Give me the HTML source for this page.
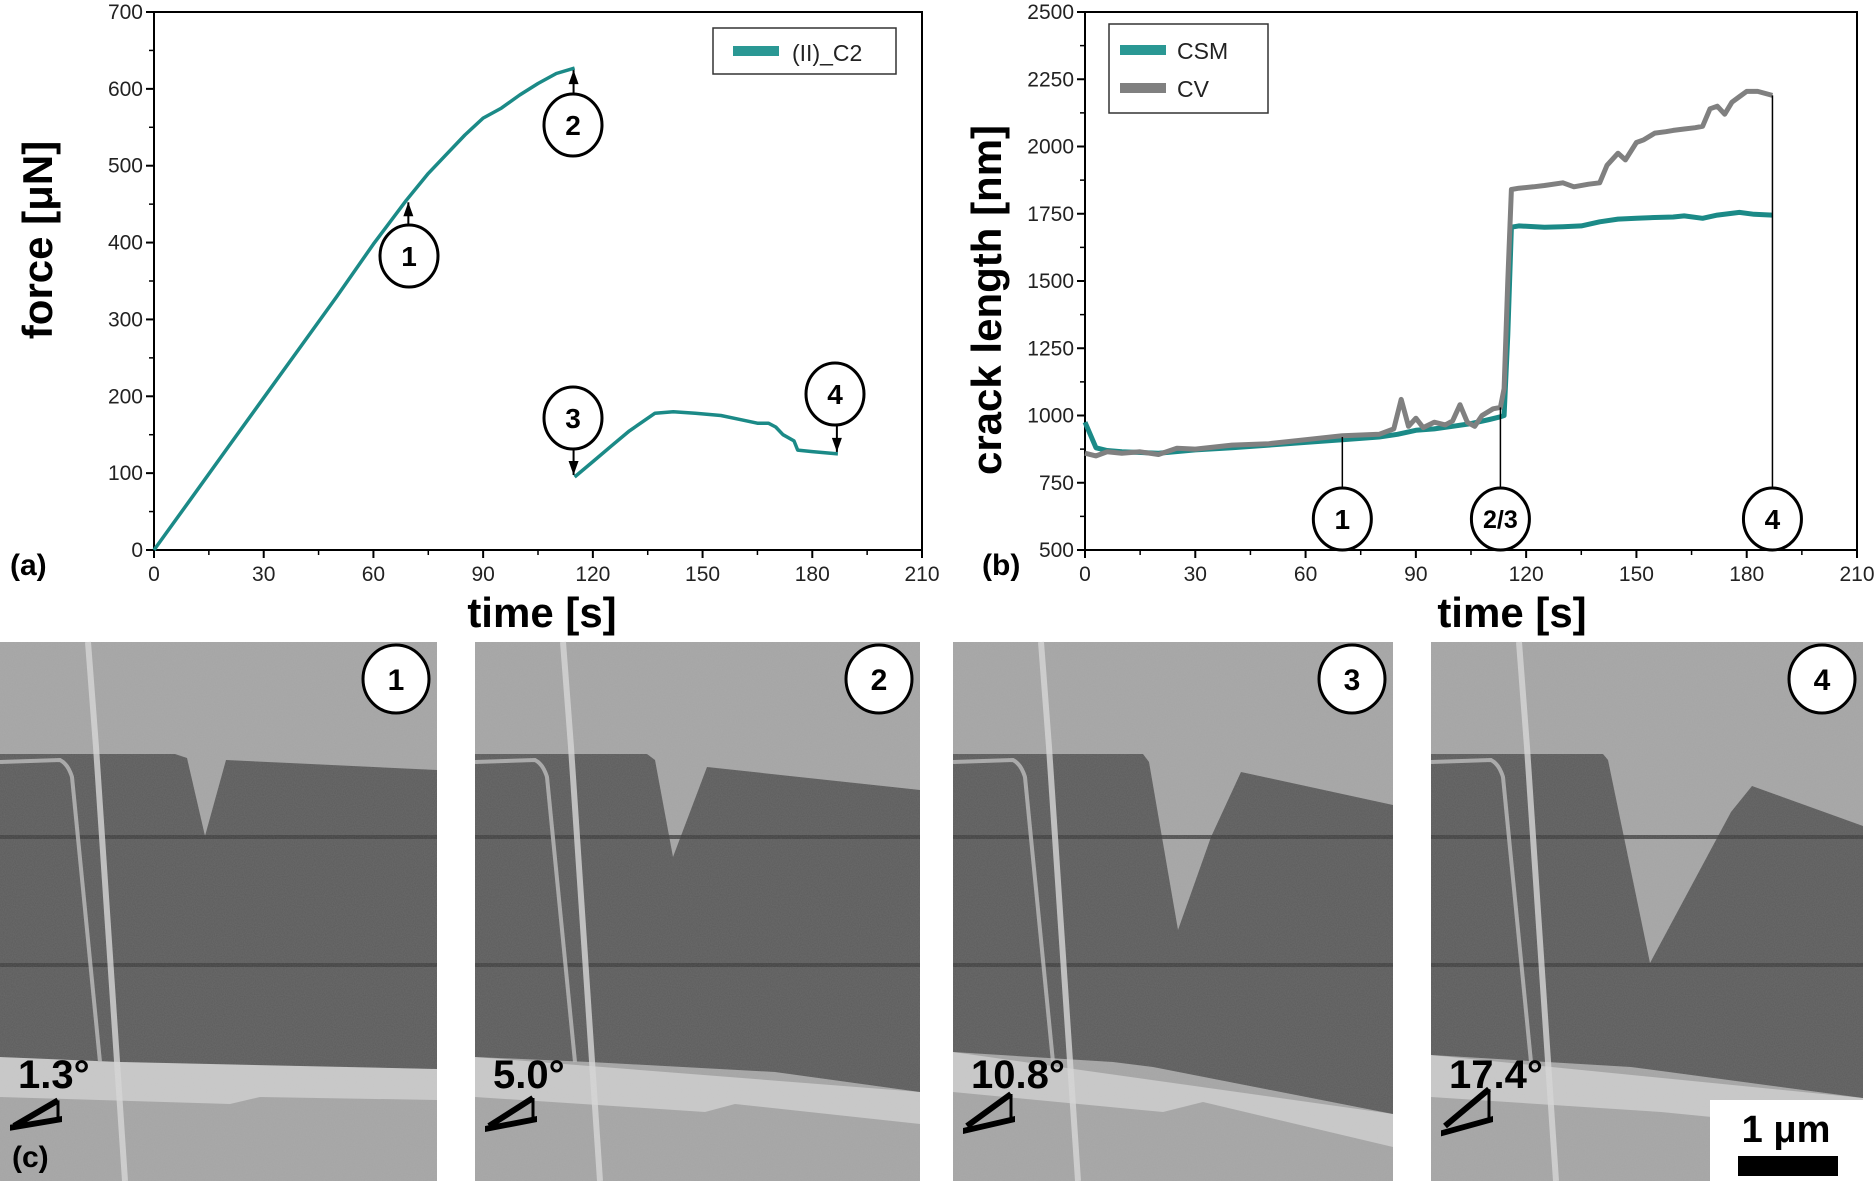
<!DOCTYPE html>
<html><head><meta charset="utf-8"><style>
html,body{margin:0;padding:0;background:#fff;}
svg{display:block;font-family:"Liberation Sans",sans-serif;}
</style></head><body>
<svg id="fig" width="1875" height="1181" viewBox="0 0 1875 1181">
<defs>
<filter id="noise" x="0" y="0" width="100%" height="100%">
<feTurbulence type="fractalNoise" baseFrequency="0.9" numOctaves="1" seed="3" result="n"/>
<feColorMatrix type="matrix" values="0 0 0 0 0.5  0 0 0 0 0.5  0 0 0 0 0.5  0 0 0 0.18 0"/>
</filter>
</defs>
<g id="chartA"></g>
<g id="chartB"></g>
<g id="sem"></g>
<text x="10" y="575" font-size="30" font-weight="bold">(a)</text>
<text x="982" y="575" font-size="30" font-weight="bold">(b)</text>
</svg>
<script>
const NS='http://www.w3.org/2000/svg';
// ---- Data ----
const forceTimeLoad=[0,10,20,30,40,50,60,69,75,80,85,90,95,100,105,110,115];
const forceLoad=[0,66,132,198,264,330,398,455,490,515,540,562,575,592,607,620,627];
const forceTimeUnload=[115,120,125,130,137,142,148,155,160,165,168,170,172,175,176,180,187];
const forceUnload=[95,115,135,155,178,180,178,175,170,165,165,160,150,142,130,128,125];
const aTicksX=[0,30,60,90,120,150,180,210];
const aTicksY=[0,100,200,300,400,500,600,700];
const csmTime=[0,3,6,10,20,30,40,50,60,70,80,85,90,95,100,105,110,113,114,115,116,118,125,130,135,140,145,150,155,160,163,168,172,178,182,187];
const csmVal=[975,880,870,865,860,872,880,890,900,910,920,930,945,950,960,970,985,995,1000,1300,1700,1705,1700,1702,1705,1720,1730,1733,1736,1738,1742,1733,1745,1755,1748,1745];
const cvTime=[0,3,6,10,15,20,25,30,40,50,60,70,80,84,86,88,90,92,95,98,100,102,104,106,108,111,113,114,115,116,118,122,125,130,133,137,140,142,145,147,150,152,155,158,160,163,166,168,170,172,174,176,178,180,183,187];
const cvVal=[860,850,865,860,865,855,878,875,890,895,910,925,930,950,1060,960,990,955,975,965,980,1040,975,960,1000,1025,1030,1100,1500,1840,1845,1850,1855,1865,1850,1860,1865,1930,1975,1950,2015,2025,2050,2055,2060,2065,2070,2075,2140,2150,2120,2165,2185,2205,2205,2190];
const bTicksX=[0,30,60,90,120,150,180,210];
const bTicksY=[500,750,1000,1250,1500,1750,2000,2250,2500];

function el(tag,attrs,parent,txt){const e=document.createElementNS(NS,tag);for(const k in attrs)e.setAttribute(k,attrs[k]);if(txt!==undefined)e.textContent=txt;parent.appendChild(e);return e;}

function axes(g,L,R,T,B,xmin,xmax,ymin,ymax,xt,yt,minorX,minorY){
  const sx=v=>L+(v-xmin)/(xmax-xmin)*(R-L);
  const sy=v=>B-(v-ymin)/(ymax-ymin)*(B-T);
  const f=el('rect',{x:L,y:T,width:R-L,height:B-T,fill:'none',stroke:'#000','stroke-width':2},g);
  
  
  xt.forEach((v,i)=>{
    const x=sx(v);
    el('line',{x1:x,y1:B,x2:x,y2:B+8,stroke:'#000','stroke-width':2},g);
    if(i<xt.length-1){const xm=sx(v+minorX);el('line',{x1:xm,y1:B,x2:xm,y2:B+5,stroke:'#000','stroke-width':1.5},g);}
    const t=el('text',{x:x,y:B+31,'font-size':21,'text-anchor':'middle',fill:'#222'},g,String(v));
    
    
  });
  yt.forEach((v,i)=>{
    const y=sy(v);
    el('line',{x1:L-8,y1:y,x2:L,y2:y,stroke:'#000','stroke-width':2},g);
    if(i<yt.length-1){const ym=sy(v+minorY);el('line',{x1:L-5,y1:ym,x2:L,y2:ym,stroke:'#000','stroke-width':1.5},g);}
    const t=el('text',{x:L-11,y:y+7,'font-size':21,'text-anchor':'end',fill:'#222'},g,String(v));
    
    
  });
  return {sx,sy};
}
function line(g,xs,ys,s,color,w,name){
  const d=xs.map((x,i)=>(i?'L':'M')+s.sx(x).toFixed(1)+','+s.sy(ys[i]).toFixed(1)).join('');
  const p=el('path',{d:d,fill:'none',stroke:color,'stroke-width':w,'stroke-linejoin':'round'},g);
  
  
}
function circ(g,cx,cy,label,fs){
  const c=el('ellipse',{cx:cx,cy:cy,rx:29,ry:31,fill:'#fff',stroke:'#000','stroke-width':3},g);
  
  
  el('text',{x:cx,y:cy+(fs*0.36),'font-size':fs||28,'font-weight':'bold','text-anchor':'middle'},g,label);
}
function arrow(g,x1,y1,x2,y2){
  el('line',{x1:x1,y1:y1,x2:x2,y2:y2,stroke:'#000','stroke-width':2},g);
  const dir=y2<y1?-1:1;
  el('polygon',{points:`${x2},${y2} ${x2-5},${y2-dir*14} ${x2+5},${y2-dir*14}`,fill:'#000'},g);
}
const teal='#1b8a87', gray='#808080';
// ---- Chart A ----
const gA=document.getElementById('chartA');
const sA=axes(gA,154,922,12,550,0,210,0,700,aTicksX,aTicksY,15,50);
line(gA,forceTimeLoad,forceLoad,sA,teal,3.5,'force-load-line');
line(gA,forceTimeUnload,forceUnload,sA,teal,3.5,'force-unload-line');
arrow(gA,sA.sx(69)+2,226,sA.sx(69)+2,sA.sy(455)+2);circ(gA,409,256,'1',28);
arrow(gA,sA.sx(115)-1,96,sA.sx(115)-1,sA.sy(627)+2);circ(gA,573,125,'2',28);
arrow(gA,sA.sx(115)-1,449,sA.sx(115)-1,sA.sy(95)-2);circ(gA,573,418,'3',28);
arrow(gA,sA.sx(187)-1,425,sA.sx(187)-1,sA.sy(125)-2);circ(gA,835,394,'4',28);
let lg=el('g',{},gA);
el('rect',{x:713,y:28,width:183,height:46,fill:'#fff',stroke:'#333','stroke-width':1.5},lg);
el('rect',{x:733,y:46,width:46,height:10,fill:'#2a9894'},lg);
el('text',{x:792,y:61,'font-size':23,fill:'#222'},lg,'(II)_C2');
let t=el('text',{x:542,y:627,'font-size':42,'font-weight':'bold','text-anchor':'middle'},gA,'time [s]');

t=el('text',{x:0,y:0,'font-size':42,'font-weight':'bold','text-anchor':'middle',transform:'translate(52,240) rotate(-90)'},gA,'force [μN]');

// ---- Chart B ----
const gB=document.getElementById('chartB');
const sB=axes(gB,1085,1857,12,550,0,210,500,2500,bTicksX,bTicksY,15,125);
line(gB,csmTime,csmVal,sB,teal,5,'csm-line');
line(gB,cvTime,cvVal,sB,gray,5,'cv-line');
[[70,920,'1',1342],[113,1030,'2/3',1501],[187,2190,'4',1771]].forEach(a=>{
  el('line',{x1:sB.sx(a[0]),y1:sB.sy(a[1]),x2:sB.sx(a[0]),y2:490,stroke:'#000','stroke-width':1.5},gB);
  circ(gB,sB.sx(a[0]),519,a[2],a[2].length>1?25:28);
});
lg=el('g',{},gB);
el('rect',{x:1109,y:24,width:159,height:89,fill:'#fff',stroke:'#333','stroke-width':1.5},lg);
el('rect',{x:1120,y:45,width:46,height:10,fill:'#2a9894'},lg);
el('text',{x:1177,y:59,'font-size':23,fill:'#222'},lg,'CSM');
el('rect',{x:1120,y:83,width:46,height:10,fill:gray},lg);
el('text',{x:1177,y:97,'font-size':23,fill:'#222'},lg,'CV');
t=el('text',{x:1512,y:627,'font-size':42,'font-weight':'bold','text-anchor':'middle'},gB,'time [s]');

t=el('text',{x:0,y:0,'font-size':42,'font-weight':'bold','text-anchor':'middle',transform:'translate(1001,300) rotate(-90)'},gB,'crack length [nm]');

// ---- SEM panels ----
const gS=document.getElementById('sem');
const panels=[
 {x:0,w:437,num:'1',ang:'1.3°',dark:'0,112 175,112 187,116 205,194 226,118 437,128 437,427 120,420 0,415',band:'0,415 437,427 437,458 260,455 230,462 0,455'},
 {x:475,w:445,num:'2',ang:'5.0°',dark:'0,112 172,112 180,118 198,215 232,125 445,148 445,450 300,430 115,420 0,415',band:'0,415 445,450 445,482 260,462 230,470 0,455'},
 {x:953,w:440,num:'3',ang:'10.8°',dark:'0,112 190,112 196,120 225,288 258,195 288,130 440,163 440,472 200,425 160,420 0,410',band:'0,410 440,472 440,505 250,460 210,470 0,450'},
 {x:1431,w:432,num:'4',ang:'17.4°',dark:'0,112 172,112 177,118 219,321 300,170 321,144 432,184 432,456 200,425 0,413',band:'0,413 432,456 432,490 230,470 0,455'}
];
panels.forEach((p,i)=>{
  const g=el('g',{transform:`translate(${p.x},642)`},gS);
  
  
  el('rect',{x:0,y:0,width:p.w,height:539,fill:'#a5a5a5'},g);
  el('polygon',{points:p.band,fill:'#c9c9c9'},g);
  el('polygon',{points:p.dark,fill:'#5b5b5b'},g);
  el('rect',{x:0,y:193,width:p.w,height:4,fill:'#3c3c3c',opacity:0.8},g);
  el('rect',{x:0,y:321,width:p.w,height:4,fill:'#3c3c3c',opacity:0.8},g);
  el('path',{d:'M88,0 L96,105 L125,539',stroke:'#d8d8d8','stroke-width':6,fill:'none',opacity:0.8},g);
  el('path',{d:'M0,120 L60,118 Q68,122 72,135 L100,420',stroke:'#bdbdbd','stroke-width':4,fill:'none',opacity:0.8},g);
  el('rect',{x:0,y:0,width:p.w,height:539,filter:'url(#noise)'},g);
  el('ellipse',{cx:p.w-41,cy:37,rx:33,ry:34,fill:'#fff',stroke:'#000','stroke-width':3},g);
  el('text',{x:p.w-41,y:48,'font-size':30,'font-weight':'bold','text-anchor':'middle'},g,p.num);
  const at=el('text',{x:18,y:446,'font-size':40,'font-weight':'bold'},g,p.ang);
  
  
  const tilt=[2,5,10,16][i];
  const sym=el('g',{},g);
  
  
  el('polygon',{points:`10,${482+tilt*0.4} 62,${474} 62,${480} 10,${488+tilt*0.4}`,fill:'#000'},sym);
  el('line',{x1:14,y1:484,x2:58,y2:460-tilt*0.8,stroke:'#000','stroke-width':6},sym);
  el('line',{x1:58,y1:460-tilt*0.8,x2:58,y2:476,stroke:'#000','stroke-width':3},sym);
  if(i===3){
    el('rect',{x:279,y:458,width:153,height:81,fill:'#fff'},g);
    el('text',{x:355,y:500,'font-size':38,'font-weight':'bold','text-anchor':'middle'},g,'1 μm');
    el('rect',{x:307,y:514,width:100,height:20,fill:'#000'},g);
  }
});
const c=el('text',{x:12,y:1167,'font-size':30,'font-weight':'bold'},gS,'(c)');


</script>
</body></html>
